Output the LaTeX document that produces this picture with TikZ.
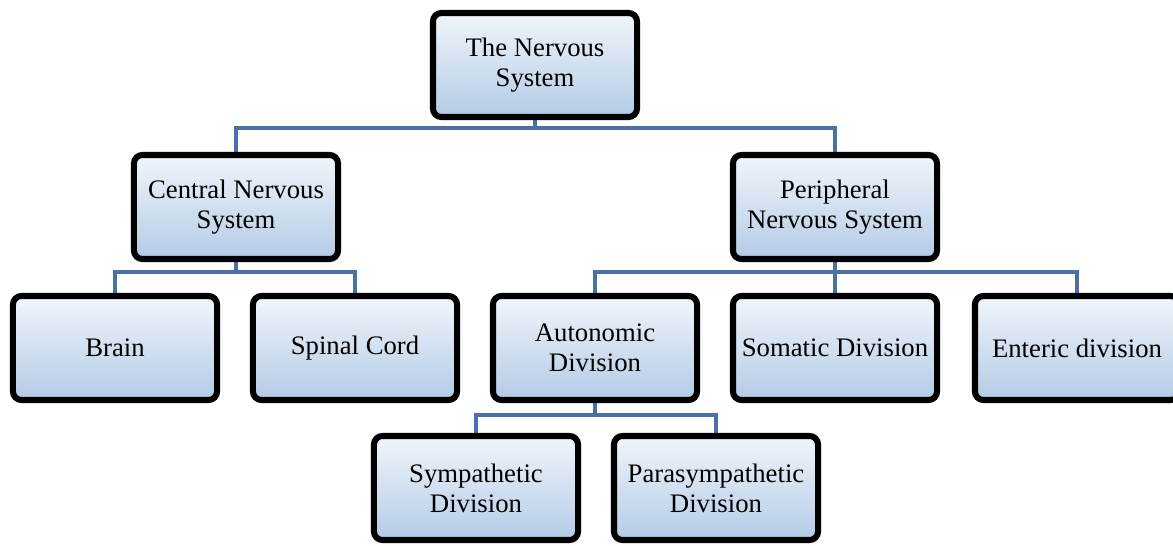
\documentclass[tikz,border=0pt]{standalone}
\usepackage{fontspec}
\setmainfont{Liberation Serif}
\usetikzlibrary{backgrounds}

\definecolor{linkblue}{HTML}{4A70A6}
\definecolor{boxtop}{HTML}{F1F5FA}
\definecolor{boxbot}{HTML}{B3CBE6}

\begin{document}
\begin{tikzpicture}[
  x=0.025cm, y=-0.025cm,
  font=\fontsize{19}{21.5}\selectfont,
  box/.style={draw=black, line width=4.3pt, rounded corners=6pt, top color=boxtop, bottom color=boxbot,
    align=center, minimum width=5.1cm, minimum height=2.6cm, inner sep=2pt},
  link/.style={draw=linkblue, line width=3pt}
]
\clip (0,0) rectangle (1173,546);

% level 0
\node[box] (nervous) at (535,65) {The Nervous\\System};

% level 1
\node[box] (cns) at (236,207) {Central Nervous\\System};
\node[box] (pns) at (835,207) {Peripheral\\Nervous System};

% level 2
\node[box] (brain) at (115,348) {Brain};
\node[box] (spinal) at (355,348) {Spinal Cord};
\node[box] (auto) at (595,348) {Autonomic\\Division};
\node[box] (somatic) at (835,348) {Somatic Division};
\node[box] (enteric) at (1077,348) {Enteric division};

% level 3
\node[box] (symp) at (476,488) {Sympathetic\\Division};
\node[box] (para) at (716,488) {Parasympathetic\\Division};

% elbow links, kept under the boxes
\coordinate (nervousbar) at (535,128);
\coordinate (cnsbar) at (236,272);
\coordinate (pnsbar) at (835,272);
\coordinate (autobar) at (595,415);

\begin{pgfonlayer}{background}
\draw[link] (nervous.south) -- (nervousbar) -| (cns.north);
\draw[link] (nervousbar) -| (pns.north);
\draw[link] (cns.south) -- (cnsbar) -| (brain.north);
\draw[link] (cnsbar) -| (spinal.north);
\draw[link] (pns.south) -- (pnsbar) -| (auto.north);
\draw[link] (pnsbar) -| (enteric.north);
\draw[link] (pnsbar) -- (somatic.north);
\draw[link] (auto.south) -- (autobar) -| (symp.north);
\draw[link] (autobar) -| (para.north);
\end{pgfonlayer}

\end{tikzpicture}
\end{document}
